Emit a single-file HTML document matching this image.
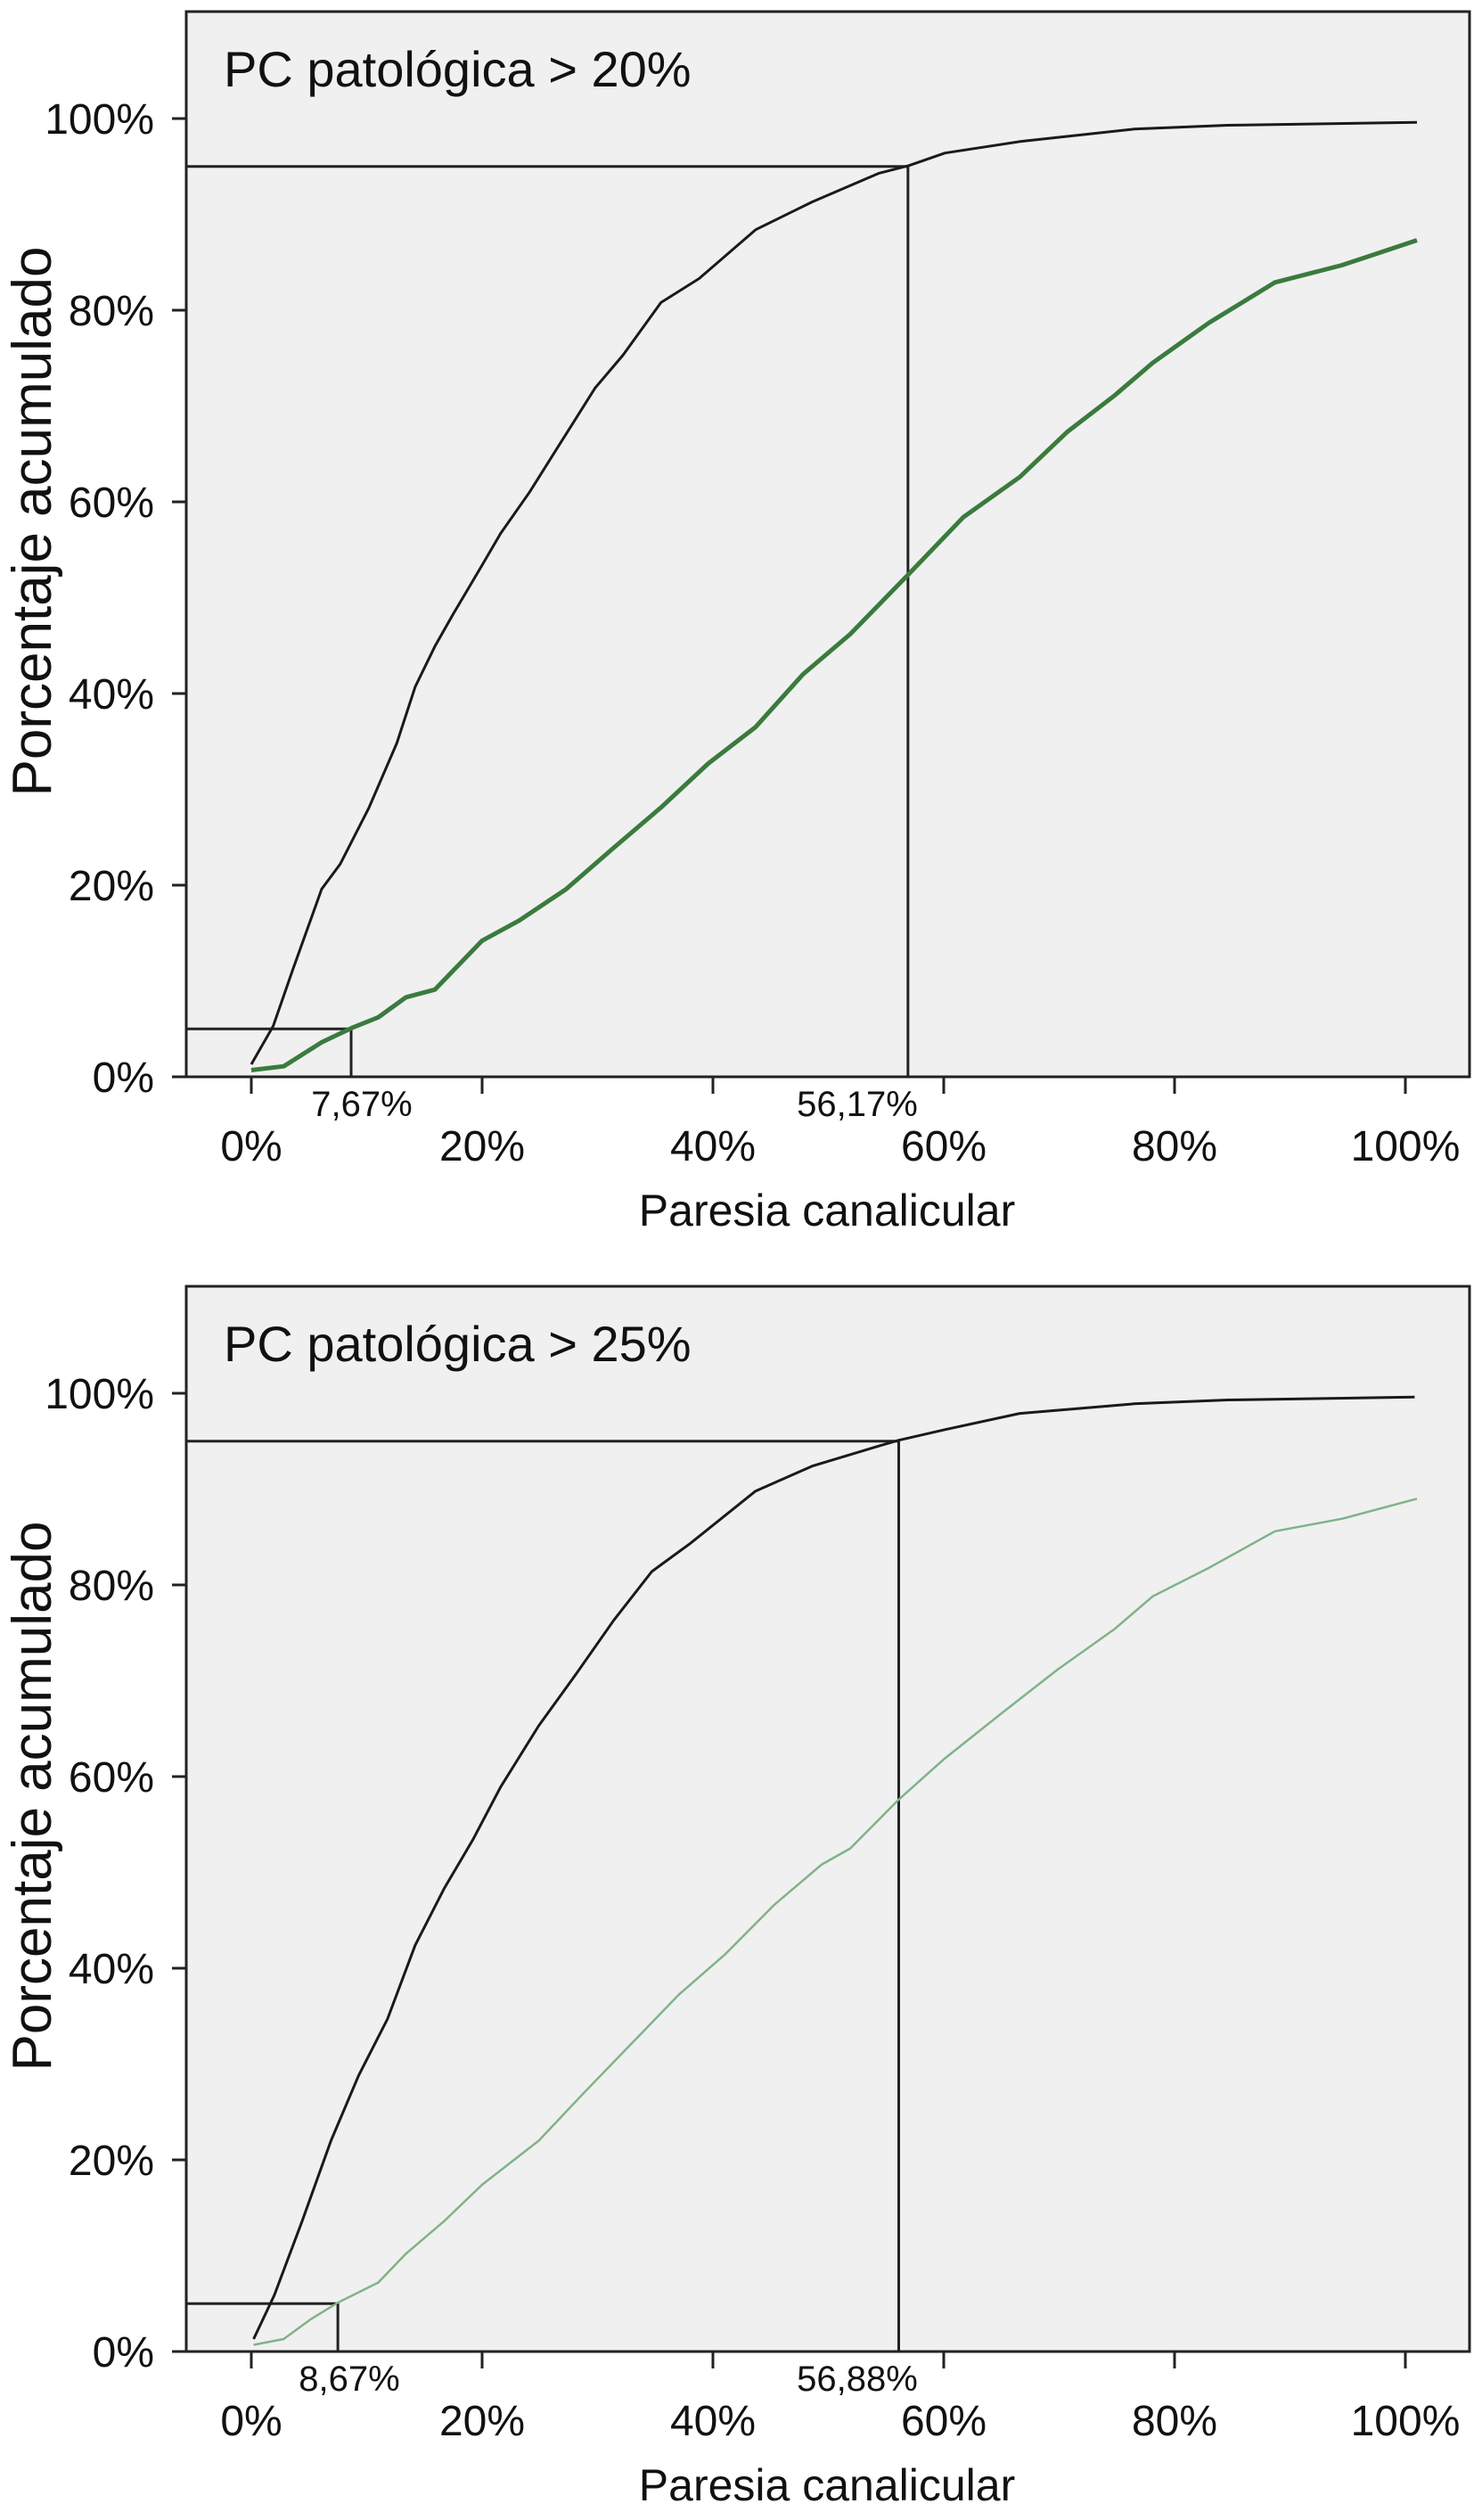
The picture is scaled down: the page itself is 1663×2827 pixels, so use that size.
<!DOCTYPE html>
<html><head><meta charset="utf-8"><title>Paresia canalicular</title>
<style>
html,body{margin:0;padding:0;background:#fff;}
svg{display:block;}
text{font-family:"Liberation Sans",Arial,sans-serif;fill:#111;}
</style></head>
<body>
<svg id="fig" width="1663" height="2827" viewBox="0 0 1663 2827" xmlns="http://www.w3.org/2000/svg"></svg>
<script>
// ---- data ----
const xTickValues = [0, 20, 40, 60, 80, 100];
const xTickLabels = ["0%", "20%", "40%", "60%", "80%", "100%"];
const yTickValues = [0, 20, 40, 60, 80, 100];
const yTickLabels = ["0%", "20%", "40%", "60%", "80%", "100%"];
const panelTitles = ["PC patológica > 20%", "PC patológica > 25%"];
const cutLabels1 = ["7,67%", "56,17%"];
const cutLabels2 = ["8,67%", "56,88%"];
const cutX1 = [8.65, 56.9];
const cutX2 = [7.5, 56.1];
const cutY = [5, 95];

const black1X = [0, 1.9, 3.6, 6.1, 7.7, 10.2, 12.6, 14.2, 15.9, 17.5, 20.0, 21.6, 24.1, 26.5, 29.8, 32.2, 35.5, 38.8, 43.7, 48.6, 54.4, 57.0, 60.1, 66.6, 76.5, 84.6, 101];
const black1Y = [1.3, 5.3, 11.2, 19.6, 22.2, 28.1, 34.8, 40.7, 44.9, 48.3, 53.4, 56.7, 61.0, 65.6, 71.9, 75.3, 80.8, 83.3, 88.4, 91.3, 94.3, 95.1, 96.4, 97.6, 98.9, 99.3, 99.6];
const green1X = [0, 2.8, 6.1, 8.7, 11.0, 13.4, 15.9, 20.0, 23.2, 27.3, 31.4, 35.5, 39.6, 43.7, 47.8, 51.9, 57.0, 61.7, 66.6, 70.7, 74.8, 78.1, 83.0, 88.7, 94.5, 101];
const green1Y = [0.7, 1.1, 3.6, 5.1, 6.2, 8.3, 9.1, 14.2, 16.3, 19.6, 23.9, 28.1, 32.7, 36.5, 42.0, 46.2, 52.5, 58.4, 62.6, 67.3, 71.1, 74.5, 78.7, 82.9, 84.7, 87.3];
const black2X = [0.2, 2.0, 4.4, 6.9, 9.3, 11.8, 14.2, 16.7, 19.2, 21.6, 24.9, 28.2, 31.4, 34.7, 38.0, 43.7, 48.6, 54.4, 56.1, 60.1, 66.6, 76.5, 84.6, 100.8];
const black2Y = [1.3, 5.9, 13.6, 22.0, 28.8, 34.7, 42.4, 48.3, 53.4, 58.9, 65.3, 70.8, 76.3, 81.4, 84.3, 89.8, 92.4, 94.5, 95.1, 96.2, 97.9, 98.9, 99.3, 99.6];
const green2X = [0.2, 2.8, 5.2, 7.5, 11.0, 13.4, 16.7, 20.0, 24.9, 28.9, 33.0, 37.1, 41.1, 45.3, 49.4, 51.9, 56.1, 60.1, 64.9, 69.9, 74.8, 78.1, 83.0, 88.7, 94.5, 101];
const green2Y = [0.7, 1.3, 3.4, 5.1, 7.2, 10.2, 13.6, 17.4, 22.0, 27.1, 32.2, 37.3, 41.5, 46.6, 50.8, 52.5, 57.6, 61.9, 66.5, 71.2, 75.4, 78.8, 81.8, 85.6, 86.9, 89.0];

const NS = "http://www.w3.org/2000/svg";
const svg = document.getElementById("fig");
function mk(tag, attrs, parent) {
  const e = document.createElementNS(NS, tag);
  for (const k in attrs) e.setAttribute(k, attrs[k]);
  (parent || svg).appendChild(e);
  return e;
}

function drawPanel(p, off) {
  const L = 209, R = 1649, T = 13 + off, B = 1208 + off;
  const x0 = 282, x100 = 1577, y0 = 1208 + off, y100 = 133 + off;
  const sx = v => x0 + (x100 - x0) * v / 100;
  const sy = v => y0 - (y0 - y100) * v / 100;
  const g = mk("g", {});
  
  

  const bg = mk("rect", {x: L, y: T, width: R - L, height: B - T, fill: "#f0f0f0", stroke: "#222", "stroke-width": 3}, g);
  
  

  yTickValues.forEach((v, i) => {
    const t = mk("line", {x1: 193, x2: L, y1: sy(v), y2: sy(v), stroke: "#222", "stroke-width": 3}, g);
    
    
    const lb = mk("text", {x: 173, y: sy(v) + 17, "text-anchor": "end", "font-size": 48}, g);
    lb.textContent = yTickLabels[i];
    
    
  });
  xTickValues.forEach((v, i) => {
    const t = mk("line", {x1: sx(v), x2: sx(v), y1: B, y2: B + 19, stroke: "#222", "stroke-width": 3}, g);
    
    
    const lb = mk("text", {x: sx(v), y: B + 94, "text-anchor": "middle", "font-size": 48}, g);
    lb.textContent = xTickLabels[i];
    
    
  });

  const hl = mk("polyline", {points: `${L},${sy(cutY[1])} ${sx(p.cutX[1])},${sy(cutY[1])} ${sx(p.cutX[1])},${B}`, fill: "none", stroke: "#222", "stroke-width": 3}, g);
  
  
  const ll = mk("polyline", {points: `${L},${sy(cutY[0])} ${sx(p.cutX[0])},${sy(cutY[0])} ${sx(p.cutX[0])},${B}`, fill: "none", stroke: "#222", "stroke-width": 3}, g);
  
  

  const path = (xs, ys) => xs.map((x, i) => (i ? "L" : "M") + sx(x).toFixed(1) + "," + sy(ys[i]).toFixed(1)).join(" ");
  const gc = mk("path", {d: path(p.gx, p.gy), fill: "none", stroke: p.gcol, "stroke-width": p.gw, "stroke-linejoin": "round"}, g);
  
  
  const bc = mk("path", {d: path(p.bx, p.by), fill: "none", stroke: "#1a1a1a", "stroke-width": 3, "stroke-linejoin": "round"}, g);
  
  

  p.cutLabels.forEach((s, i) => {
    const lb = mk("text", {x: p.cutLabelX[i], y: B + 44, "text-anchor": "middle", "font-size": 40}, g);
    lb.textContent = s;
    
    
  });

  const tt = mk("text", {x: 251, y: 97 + off, "font-size": 56}, g);
  tt.textContent = panelTitles[p.idx];
  
  

  const yt = mk("text", {x: 0, y: 0, "text-anchor": "middle", "font-size": 62, transform: `translate(57,${585 + off}) rotate(-90)`}, g);
  yt.textContent = "Porcentaje acumulado";
  
  

  const xt = mk("text", {x: 928, y: 1375 + off, "text-anchor": "middle", "font-size": 50}, g);
  xt.textContent = "Paresia canalicular";
  
  
}

drawPanel({idx: 0, cutX: cutX1, cutLabels: cutLabels1, cutLabelX: [406, 962], bx: black1X, by: black1Y, gx: green1X, gy: green1Y, gcol: "#3a7b3e", gw: 5}, 0);
drawPanel({idx: 1, cutX: cutX2, cutLabels: cutLabels2, cutLabelX: [392, 962], bx: black2X, by: black2Y, gx: green2X, gy: green2Y, gcol: "#7fb38a", gw: 2.5}, 1430);
</script>
</body></html>
